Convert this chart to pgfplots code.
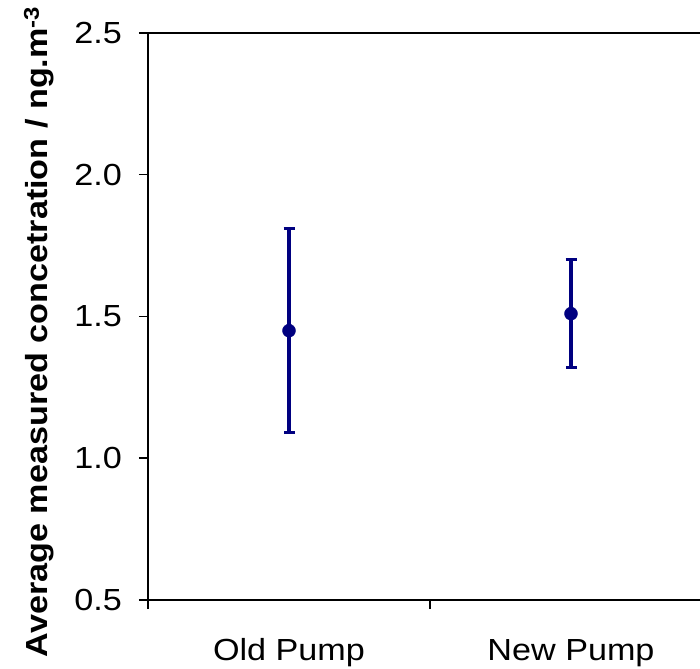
\documentclass[border=0pt]{standalone}
\usepackage{pgfplots}
\pgfplotsset{compat=1.18}
\usepackage{fontspec}
\setmainfont[FakeStretch=1.12]{Liberation Sans}
\definecolor{navy}{RGB}{0,0,128}
\begin{document}
\begin{tikzpicture}
\useasboundingbox (-148pt,-68pt) rectangle (552pt,600pt);
\begin{axis}[
  scale only axis, width=564pt, height=567pt,
  at={(0,0)}, anchor=south west,
  xmin=0, xmax=2, ymin=0.5, ymax=2.5,
  axis line style={line width=1.5pt},
  tick align=outside, tick pos=left,
  major tick length=9pt,
  tick style={black, line width=1.5pt},
  /pgf/number format/assume math mode=true,
  ytick={0.5,1.0,1.5,2.0,2.5},
  yticklabel style={font=\fontsize{30.5}{30}\selectfont, inner sep=0pt, xshift=-17pt,
    /pgf/number format/fixed, /pgf/number format/fixed zerofill, /pgf/number format/precision=1},
  xtick={0,1,2}, xticklabels={,,},
  extra x ticks={0.5,1.5},
  extra x tick labels={Old Pump, New Pump},
  extra x tick style={major tick length=0pt,
    xticklabel style={font=\fontsize{30.5}{30}\selectfont, anchor=base, inner sep=0pt, yshift=-60pt}},
  ylabel={Average measured concetration / ng.m\textsuperscript{-3}},
  ylabel style={font=\bfseries\fontsize{30.5}{30}\selectfont,
    at={(axis description cs:-0.1773,0.473)}, anchor=base},
]
\addplot[navy, only marks, mark=*, mark size=6.5pt, mark options={fill=navy},
  error bars/.cd, y dir=both, y explicit,
  error bar style={line width=3.3pt, navy},
  error mark options={rotate=90, mark size=5.5pt, line width=3.3pt, navy}]
coordinates {
  (0.5,1.45) +- (0,0.36)
  (1.5,1.51) +- (0,0.19)
};
\end{axis}
\end{tikzpicture}
\end{document}
